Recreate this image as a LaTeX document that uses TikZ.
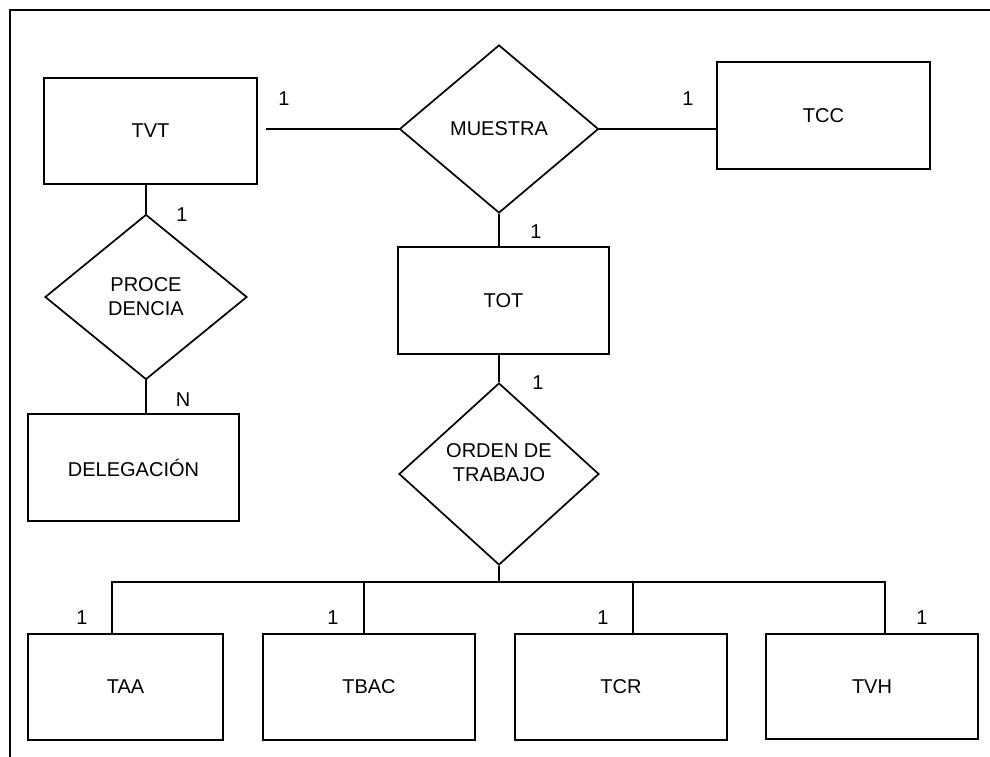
\documentclass[tikz,border=0pt]{standalone}
\usepackage{fontspec}
\setmainfont{Liberation Sans}
\usetikzlibrary{shapes.geometric}
\begin{document}
\begin{tikzpicture}[x=1pt,y=-1pt,
  every node/.style={font=\fontsize{20}{24}\selectfont},
  ent/.style={draw,line width=1.7pt,rectangle,inner sep=0pt},
  rel/.style={draw,line width=1.7pt,diamond,inner sep=0pt,align=center},
  card/.style={inner sep=0pt},
  conn/.style={line width=1.7pt}]
\useasboundingbox (0,0) rectangle (990,757);
% frame
\draw[line width=1.5pt] (10,757) -- (10,10) -- (990,10);
% entities
\node[ent,minimum width=213,minimum height=106] (tvt) at (150.5,131) {TVT};
\node[ent,minimum width=213,minimum height=107] (tcc) at (823.5,115.5) {TCC};
\node[ent,minimum width=211,minimum height=107] (tot) at (503.5,300.5) {TOT};
\node[ent,minimum width=211,minimum height=107] (del) at (133.5,467.5) {DELEGACIÓN};
\node[ent,minimum width=195,minimum height=106] (taa) at (125.5,687) {TAA};
\node[ent,minimum width=212,minimum height=106] (tbac) at (369,687) {TBAC};
\node[ent,minimum width=212,minimum height=106] (tcr) at (621,687) {TCR};
\node[ent,minimum width=212,minimum height=105] (tvh) at (872,686.5) {TVH};
% relations
\node[rel,minimum width=199,minimum height=168] (mu) at (499,129) {MUESTRA};
\node[rel,minimum width=202,minimum height=165] (pro) at (146,297) {PROCE\\DENCIA};
\node[rel,minimum width=200,minimum height=182] (ord) at (499,474) {ORDEN DE\\TRABAJO\\[-1pt]};
% connectors
\draw[conn] ([xshift=8pt]tvt.east |- mu.west) -- (mu.west);
\draw[conn] (mu.east) -- (tcc.west |- mu.east);
\draw[conn] (mu.south) -- (mu.south |- tot.north);
\draw[conn] (ord.north |- tot.south) -- (ord.north);
\draw[conn] (pro.north |- tvt.south) -- (pro.north);
\draw[conn] (pro.south) -- (pro.south |- del.north);
\coordinate (b1) at (112,582);
\coordinate (b2) at (364,582);
\coordinate (b3) at (633,582);
\coordinate (b4) at (885,582);
\draw[conn] (ord.south) -- (ord.south |- b1);
\draw[conn] (b1 |- taa.north) -- (b1) -- (b4) -- (b4 |- tvh.north);
\draw[conn] (b2) -- (b2 |- tbac.north);
\draw[conn] (b3) -- (b3 |- tcr.north);
% cardinalities
\node[card] (c1) at (284,99) {1};
\node[card] (c2) at (688,99) {1};
\node[card] (c3) at (536,232) {1};
\node[card] (c4) at (182,215) {1};
\node[card] (c5) at (183,400) {N};
\node[card] (c6) at (538,383) {1};
\node[card] (c7) at (82,618) {1};
\node[card] (c8) at (333,618) {1};
\node[card] (c9) at (603,618) {1};
\node[card] (c10) at (922,618) {1};
\end{tikzpicture}
\end{document}
